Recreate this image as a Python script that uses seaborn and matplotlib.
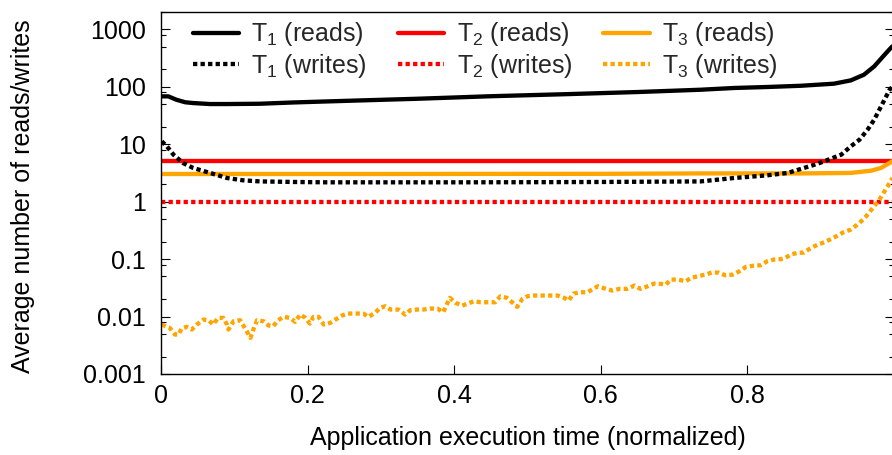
import matplotlib
matplotlib.use("Agg")
import matplotlib.pyplot as plt
import matplotlib.ticker as mticker
from matplotlib.lines import Line2D
import pandas as pd
import seaborn as sns

# ---------------- data ----------------
t1_reads_x = [0.0, 0.010, 0.021, 0.033, 0.044, 0.067, 0.090, 0.135, 0.181, 0.226, 0.272,
              0.35, 0.45, 0.55, 0.65, 0.736, 0.782, 0.827, 0.873, 0.918, 0.941, 0.959,
              0.973, 0.985, 0.994, 1.0]
t1_reads_y = [68, 68, 59.4, 53.7, 52, 50, 50, 50.6, 53.3, 55.5, 57.8,
              61.8, 68.4, 74.1, 80.9, 88.7, 95.2, 99, 104, 113, 129, 162,
              226, 336, 450, 540]

t1_writes_x = [0.001, 0.008, 0.017, 0.030, 0.044, 0.067, 0.090, 0.112, 0.135, 0.181, 0.226,
               0.272, 0.40, 0.50, 0.60, 0.736, 0.782, 0.827, 0.855, 0.877, 0.896, 0.914,
               0.928, 0.941, 0.953, 0.964, 0.973, 0.980, 0.987, 0.994, 1.0]
t1_writes_y = [11.2, 9.2, 6.57, 4.71, 3.85, 3.16, 2.58, 2.35, 2.25, 2.2, 2.17,
               2.17, 2.17, 2.18, 2.2, 2.25, 2.58, 2.87, 3.16, 3.85, 4.58, 5.6,
               6.57, 9.16, 12, 17.9, 26.7, 39.8, 59.4, 88.7, 108]

t2_reads_x = [0.0, 1.0]
t2_reads_y = [5.0, 5.0]
t2_writes_x = [0.0, 1.0]
t2_writes_y = [1.0, 1.0]

t3_reads_x = [0.0, 0.3, 0.6, 0.736, 0.873, 0.941, 0.969, 0.982, 0.994, 1.0]
t3_reads_y = [3.03, 3.03, 3.05, 3.1, 3.1, 3.16, 3.46, 3.85, 4.71, 5.3]

t3_writes_x = [0.001, 0.012, 0.019, 0.024, 0.028, 0.035, 0.042, 0.049, 0.058, 0.065,
               0.071, 0.078, 0.085, 0.090, 0.092, 0.099, 0.108, 0.117, 0.122, 0.126,
               0.131, 0.140, 0.147, 0.153, 0.160, 0.167, 0.176, 0.183, 0.190, 0.197,
               0.203, 0.208, 0.215, 0.222, 0.231, 0.238, 0.247, 0.254, 0.267, 0.276,
               0.283, 0.292, 0.299, 0.306, 0.313, 0.324, 0.333, 0.340, 0.349, 0.358,
               0.367, 0.377, 0.385, 0.394, 0.402, 0.411, 0.418, 0.427, 0.436, 0.449,
               0.456, 0.463, 0.472, 0.479, 0.486, 0.493, 0.500, 0.509, 0.527, 0.541,
               0.550, 0.556, 0.563, 0.572, 0.582, 0.588, 0.596, 0.607, 0.616, 0.625,
               0.636, 0.646, 0.654, 0.664, 0.673, 0.682, 0.689, 0.695, 0.705, 0.716,
               0.723, 0.732, 0.743, 0.752, 0.761, 0.770, 0.780, 0.789, 0.798, 0.809,
               0.818, 0.827, 0.836, 0.846, 0.852, 0.859, 0.868, 0.877, 0.887, 0.896,
               0.905, 0.914, 0.923, 0.930, 0.941, 0.953, 0.962, 0.971, 0.980, 0.987,
               0.994, 0.998]
t3_writes_y = [0.00726, 0.00635, 0.00486, 0.00486, 0.00618, 0.00662, 0.00594, 0.00726, 0.00887, 0.00863,
               0.00726, 0.00948, 0.00948, 0.00726, 0.00594, 0.00828, 0.00863, 0.00555, 0.00426, 0.00594,
               0.00863, 0.00828, 0.00697, 0.00678, 0.00863, 0.00988, 0.00948, 0.00809, 0.01084, 0.00948,
               0.00755, 0.00988, 0.00988, 0.00726, 0.00776, 0.00887, 0.0104, 0.01128, 0.01128, 0.01128,
               0.00988, 0.0116, 0.01416, 0.0151, 0.01324, 0.01324, 0.01084, 0.01288, 0.01324, 0.01324,
               0.01377, 0.01377, 0.01188, 0.02115, 0.0173, 0.0155, 0.0168, 0.01845, 0.01774, 0.01774,
               0.01774, 0.02255, 0.02115, 0.01774, 0.01476, 0.0203, 0.02255, 0.0232, 0.0232, 0.0232,
               0.02115, 0.019, 0.0251, 0.0265, 0.0265, 0.0295, 0.0337, 0.0303, 0.0283, 0.0303,
               0.0303, 0.0346, 0.0303, 0.0337, 0.0375, 0.037, 0.036, 0.044, 0.044, 0.0411,
               0.0471, 0.0502, 0.0537, 0.0589, 0.058, 0.0523, 0.0537, 0.0614, 0.0731, 0.077,
               0.078, 0.0916, 0.098, 0.1, 0.105, 0.12, 0.128, 0.13, 0.157, 0.179,
               0.196, 0.223, 0.256, 0.289, 0.326, 0.426, 0.555, 0.776, 1.08, 1.51,
               2.11, 2.58]

labels = ["T$_1$ (reads)", "T$_1$ (writes)", "T$_2$ (reads)", "T$_2$ (writes)",
          "T$_3$ (reads)", "T$_3$ (writes)"]
colors = ["black", "black", "#ff0000", "#ff0000", "#ffa500", "#ffa500"]

# ---------------- style ----------------
sns.set_theme(style="ticks")
plt.rcParams['font.family'] = ['Liberation Sans', 'DejaVu Sans']
plt.rcParams['mathtext.fontset'] = 'custom'
plt.rcParams['mathtext.rm'] = 'Liberation Sans'
plt.rcParams['mathtext.it'] = 'Liberation Sans:italic'
plt.rcParams['mathtext.default'] = 'regular'

FS = 18
LW = 3.1
DOT = (0, (1, 0.75))

fig = plt.figure(figsize=(8.92, 4.55), dpi=100)
ax = fig.add_axes([161 / 892, 1 - 374 / 455, (894 - 161) / 892, (374 - 12) / 455])

series = [
    (t1_reads_x, t1_reads_y, "-"),
    (t1_writes_x, t1_writes_y, DOT),
    (t2_reads_x, t2_reads_y, "-"),
    (t2_writes_x, t2_writes_y, DOT),
    (t3_reads_x, t3_reads_y, "-"),
    (t3_writes_x, t3_writes_y, DOT),
]
order = [0, 2, 4, 1, 3, 5]
for i in order:
    xs, ys, ls = series[i]
    df = pd.DataFrame({"x": xs, "y": ys})
    sns.lineplot(data=df, x="x", y="y", ax=ax, color=colors[i], linewidth=LW,
                 linestyle=ls, estimator=None, sort=False, legend=False)
for line in ax.get_lines():
    line.set_dash_capstyle("butt")
    line.set_solid_capstyle("butt")
    line.set_solid_joinstyle("round")
    line.set_clip_on(True)

ax.set_yscale("log")
ax.set_ylim(0.001, 2000)
ax.set_xlim(0, 1)
ax.yaxis.set_major_locator(mticker.FixedLocator([0.001, 0.01, 0.1, 1, 10, 100, 1000]))
ax.yaxis.set_major_formatter(mticker.FuncFormatter(lambda v, p: "%g" % v))
ax.yaxis.set_minor_locator(mticker.LogLocator(base=10, subs=[2, 5, 8], numticks=20))
ax.yaxis.set_minor_formatter(mticker.NullFormatter())
ax.set_xticks([0, 0.2, 0.4, 0.6, 0.8, 1.0])
ax.set_xticklabels(["0", "0.2", "0.4", "0.6", "0.8", ""])

for s in ax.spines.values():
    s.set_linewidth(1.0)
    s.set_color("black")
ax.tick_params(axis="both", which="major", direction="in", length=6.5, width=0.8,
               colors="black", labelsize=FS, right=True, top=False)
ax.tick_params(axis="y", which="major", pad=11)
ax.tick_params(axis="x", which="major", pad=7)
ax.tick_params(axis="y", which="minor", direction="in", length=3.5, width=0.8,
               colors="black", right=True)

ax.set_xlabel("Application execution time (normalized)", fontsize=FS, color="black")
ax.set_ylabel("Average number of reads/writes", fontsize=FS, color="black")
ax.xaxis.set_label_coords(0.5, -0.145)
ax.yaxis.set_label_coords(-0.172, 0.49)

handles = [Line2D([0], [0], color=colors[i], linewidth=LW,
                  linestyle=series[i][2], dash_capstyle="butt") for i in range(6)]
ax.legend(handles, labels, loc="upper left", bbox_to_anchor=(0.043, 0.977), ncol=3,
          frameon=False, fontsize=FS, handlelength=1.85, handletextpad=0.5,
          columnspacing=1.25, labelspacing=0.14, borderpad=0, borderaxespad=0)

fig.savefig("out.png", dpi=100)
